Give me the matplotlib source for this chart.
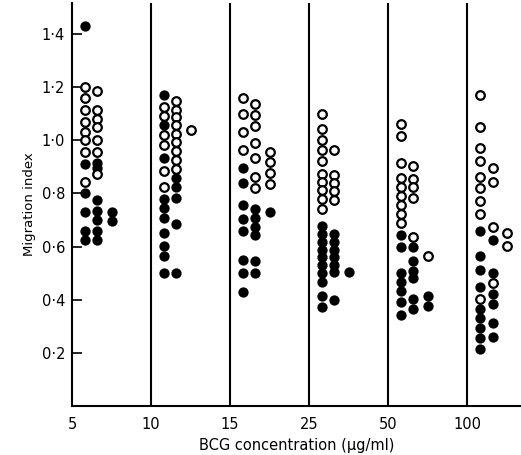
import matplotlib
matplotlib.use('Agg')
import matplotlib.pyplot as plt

# BCG concentration groups (ug/ml)
groups = ['5', '10', '15', '25', '50', '100']

# migration index per group, per column: filled (solid) and open circles
filled = [
    [[1.43, 0.91, 0.80, 0.73, 0.66, 0.625],
     [0.915, 0.895, 0.775, 0.735, 0.70, 0.66, 0.625],
     [0.73, 0.695]],
    [[1.17, 1.057, 0.933, 0.78, 0.746, 0.708, 0.65, 0.604, 0.566, 0.499],
     [0.859, 0.826, 0.784, 0.686, 0.499],
     []],
    [[0.897, 0.839, 0.758, 0.705, 0.658, 0.55, 0.499, 0.428],
     [0.742, 0.708, 0.673, 0.642, 0.547, 0.499],
     [0.73]],
    [[0.679, 0.649, 0.619, 0.589, 0.559, 0.529, 0.499, 0.465, 0.415, 0.374],
     [0.649, 0.619, 0.589, 0.559, 0.529, 0.503, 0.399],
     [0.506]],
    [[0.642, 0.60, 0.499, 0.465, 0.434, 0.39, 0.343],
     [0.60, 0.545, 0.509, 0.482, 0.403, 0.365],
     [0.415, 0.377]],
    [[0.66, 0.566, 0.512, 0.449, 0.365, 0.33, 0.295, 0.255, 0.215],
     [0.625, 0.50, 0.421, 0.384, 0.314, 0.26],
     []],
]
opened = [
    [[1.20, 1.16, 1.115, 1.07, 1.03, 1.00, 0.955, 0.845],
     [1.185, 1.115, 1.08, 1.05, 1.00, 0.955, 0.875],
     []],
    [[1.126, 1.092, 1.019, 0.981, 0.884, 0.826],
     [1.148, 1.113, 1.086, 1.057, 1.025, 0.994, 0.96, 0.925, 0.893],
     [1.04]],
    [[1.161, 1.098, 1.031, 0.965],
     [1.136, 1.097, 1.053, 0.99, 0.935, 0.862, 0.821],
     [0.956, 0.918, 0.877, 0.837]],
    [[1.101, 1.044, 1.003, 0.962, 0.922, 0.872, 0.843, 0.814, 0.78, 0.742],
     [0.965, 0.868, 0.839, 0.809, 0.776],
     []],
    [[1.06, 1.015, 0.914, 0.859, 0.826, 0.789, 0.758, 0.721, 0.688],
     [0.902, 0.855, 0.824, 0.782, 0.638],
     [0.566]],
    [[1.17, 1.05, 0.972, 0.922, 0.862, 0.821, 0.771, 0.721, 0.403],
     [0.897, 0.843, 0.675, 0.462],
     [0.65, 0.604]],
]

yticks = [0.2, 0.4, 0.6, 0.8, 1.0, 1.2, 1.4]
ytick_labels = ['0·2', '0·4', '0·6', '0·8', '1·0', '1·2', '1·4']

col_offset = [0.16, 0.32, 0.50]

fig = plt.figure(figsize=(5.21, 4.55), dpi=100)
ax = fig.add_axes([72/521, 49/455, 449/521, 403/455])

for g in range(len(groups)):
    for c in range(3):
        xs = [g + col_offset[c]] * len(filled[g][c])
        ax.plot(xs, filled[g][c], 'o', ms=6.2, color='black', mec='black', mew=1.2)
        xs = [g + col_offset[c]] * len(opened[g][c])
        ax.plot(xs, opened[g][c], 'o', ms=6.2, mfc='white', mec='black', mew=1.6)

for g in range(1, len(groups)):
    ax.axvline(g, color='black', lw=1.5)

ax.set_xlim(0, 5.68)
ax.set_ylim(0, 1.517)
ax.set_xticks(range(len(groups)))
ax.set_xticklabels(groups, fontsize=10.5)
ax.set_yticks(yticks)
ax.set_yticklabels(ytick_labels, fontsize=10.5)
ax.tick_params(axis='x', length=0, pad=8)
ax.tick_params(axis='y', direction='in', length=7, width=1.2, pad=5)

for s in ['top', 'right']:
    ax.spines[s].set_visible(False)
for s in ['left', 'bottom']:
    ax.spines[s].set_linewidth(1.5)

ax.set_xlabel('BCG concentration (μg/ml)', fontsize=10.5, labelpad=4)
ax.set_ylabel('Migration index', fontsize=9.5, labelpad=4)

fig.savefig('out.png', dpi=100)
